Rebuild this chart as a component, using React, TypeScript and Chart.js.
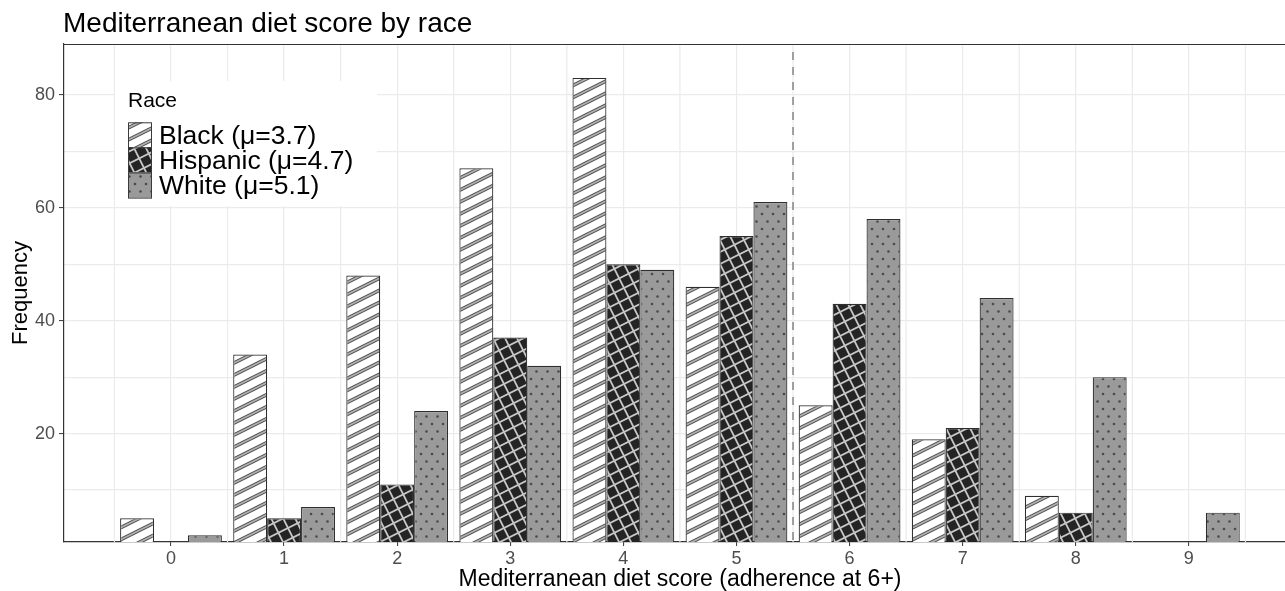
import React, { useEffect, useRef } from 'react';
import { Chart, registerables } from 'chart.js';

Chart.register(...registerables);

// ---- data ----
const scores = [0, 1, 2, 3, 4, 5, 6, 7, 8, 9];
const blackCounts = [5, 34, 48, 67, 83, 46, 25, 19, 9, 0];
const hispanicCounts = [0, 5, 11, 37, 50, 55, 43, 21, 6, 0];
const whiteCounts = [2, 7, 24, 32, 49, 61, 58, 44, 30, 6];
const seriesLabels = ['Black (μ=3.7)', 'Hispanic (μ=4.7)', 'White (μ=5.1)'];
const yTickValues = [10, 20, 30, 40, 50, 60, 70, 80];
const xHalfGrid = [-0.5, 0.5, 1.5, 2.5, 3.5, 4.5, 5.5, 6.5, 7.5, 8.5, 9.5];
const cutoffScore = 5.5;
const chartTitle = 'Mediterranean diet score by race';
const xTitle = 'Mediterranean diet score (adherence at 6+)';
const yTitle = 'Frequency';
const legendTitle = 'Race';

const FONT = "'Liberation Sans', Arial, Helvetica, sans-serif";

function makePattern(ctx: CanvasRenderingContext2D, w: number, h: number, draw: (g: CanvasRenderingContext2D) => void) {
  const c = document.createElement('canvas');
  c.width = w;
  c.height = h;
  const g = c.getContext('2d')!;
  draw(g);
  return ctx.createPattern(c, 'repeat')!;
}

function buildPatterns(ctx: CanvasRenderingContext2D) {
  const stripes = makePattern(ctx, 24, 12, (g) => {
    g.fillStyle = '#ffffff';
    g.fillRect(0, 0, 24, 12);
    for (let k = -1; k <= 2; k++) {
      g.beginPath();
      g.moveTo(-4, 12 * k + 2);
      g.lineTo(28, 12 * k - 14);
      g.strokeStyle = '#4a4a4a';
      g.lineWidth = 3.6;
      g.stroke();
      g.strokeStyle = '#b0b0b0';
      g.lineWidth = 1.8;
      g.stroke();
    }
  });
  const cross = makePattern(ctx, 24, 24, (g) => {
    g.fillStyle = '#242424';
    g.fillRect(0, 0, 24, 24);
    g.strokeStyle = '#c8c8c8';
    g.lineWidth = 1.8;
    for (let k = -1; k <= 4; k++) {
      g.beginPath();
      g.moveTo(-4, 12 * k + 2);
      g.lineTo(28, 12 * k - 14);
      g.stroke();
    }
    for (let k = -1; k <= 2; k++) {
      g.beginPath();
      g.moveTo(12 * k - 2, -4);
      g.lineTo(12 * k + 14, 28);
      g.stroke();
    }
  });
  const dots = makePattern(ctx, 22, 15, (g) => {
    g.fillStyle = '#9a9a9a';
    g.fillRect(0, 0, 22, 15);
    g.fillStyle = '#4a4a4a';
    const pts = [[3, 4], [14, 4], [8.5, 11.5], [19.5, 11.5]];
    for (const [x, y] of pts) {
      g.beginPath();
      g.arc(x, y, 1.3, 0, Math.PI * 2);
      g.fill();
    }
  });
  return [stripes, cross, dots];
}

export default function App() {
  const ref = useRef<HTMLCanvasElement | null>(null);

  useEffect(() => {
    document.body.style.margin = '0';
    const canvas = ref.current!;
    const ctx = canvas.getContext('2d')!;
    const patterns = buildPatterns(ctx);
    const toPoints = (arr: number[]) => scores.map((s, i) => ({ x: s, y: arr[i] === 0 ? null : arr[i] }));

    const decor = {
      id: 'decor',
      beforeDatasetsDraw(chart: any) {
        const { ctx: c, chartArea: a, scales } = chart;
        c.save();
        c.beginPath();
        c.rect(a.left, a.top, a.right - a.left, a.bottom - a.top);
        c.clip();
        c.strokeStyle = '#ebebeb';
        c.lineWidth = 1.2;
        for (const v of xHalfGrid) {
          const px = scales.x.getPixelForValue(v);
          c.beginPath();
          c.moveTo(px, a.top);
          c.lineTo(px, a.bottom);
          c.stroke();
        }
        c.restore();
      },
      afterDatasetsDraw(chart: any) {
        const { ctx: c, chartArea: a, scales } = chart;
        const px = scales.x.getPixelForValue(cutoffScore);
        c.save();
        c.strokeStyle = '#8c8c8c';
        c.lineWidth = 1.6;
        c.setLineDash([8, 7]);
        c.lineDashOffset = -8;
        c.beginPath();
        c.moveTo(px, a.top);
        c.lineTo(px, a.bottom);
        c.stroke();
        c.restore();
      },
      afterDraw(chart: any) {
        const { ctx: c, chartArea: a } = chart;
        c.save();
        // top border
        c.strokeStyle = '#333333';
        c.lineWidth = 1.2;
        c.beginPath();
        c.moveTo(a.left, a.top + 0.5);
        c.lineTo(a.right, a.top + 0.5);
        c.stroke();

        // title
        c.fillStyle = '#000000';
        c.textAlign = 'left';
        c.textBaseline = 'alphabetic';
        c.font = `28px ${FONT}`;
        c.fillText(chartTitle, 63, 32);

        // x title
        c.font = `23px ${FONT}`;
        c.textAlign = 'center';
        c.fillText(xTitle, 680, 586);

        // y title
        c.save();
        c.font = `22px ${FONT}`;
        c.translate(27, (a.top + a.bottom) / 2);
        c.rotate(-Math.PI / 2);
        c.textAlign = 'center';
        c.fillText(yTitle, 0, 0);
        c.restore();

        // legend
        const lx = 115, ly = 81, lw = 262, lh = 125;
        c.fillStyle = '#ffffff';
        c.fillRect(lx, ly, lw, lh);
        c.fillStyle = '#000000';
        c.textAlign = 'left';
        c.font = `21px ${FONT}`;
        c.fillText(legendTitle, 128, 107);
        const keyTop = 122.3, keyH = 25.1, keyX = 128, keyW = 23;
        c.font = `26.5px ${FONT}`;
        c.strokeStyle = '#3a3a3a';
        c.lineWidth = 1;
        for (let i = 0; i < seriesLabels.length; i++) {
          const y0 = keyTop + i * keyH;
          c.fillStyle = patterns[i];
          c.fillRect(keyX, y0, keyW, keyH);
          c.strokeRect(keyX + 0.5, y0 + 0.5, keyW, keyH);
          c.fillStyle = '#000000';
          c.fillText(seriesLabels[i], 159, y0 + 21.7);
        }
        c.restore();
      },
    };

    const chart = new Chart(canvas, {
      type: 'bar',
      data: {
        datasets: [
          { label: seriesLabels[0], data: toPoints(blackCounts), backgroundColor: patterns[0] },
          { label: seriesLabels[1], data: toPoints(hispanicCounts), backgroundColor: patterns[1] },
          { label: seriesLabels[2], data: toPoints(whiteCounts), backgroundColor: patterns[2] },
        ] as any,
      },
      options: {
        responsive: false,
        animation: false,
        devicePixelRatio: 1,
        layout: { padding: { top: 44, left: 0, right: 0, bottom: 0 } },
        datasets: {
          bar: {
            categoryPercentage: 0.9,
            barPercentage: 1,
            borderWidth: 1.2,
            borderColor: '#2e2e2e',
            borderSkipped: false,
          },
        } as any,
        plugins: {
          legend: { display: false },
          title: { display: false },
          tooltip: { enabled: false },
        },
        scales: {
          x: {
            type: 'linear',
            min: -0.946,
            max: 9.85,
            offset: false,
            afterBuildTicks: (s: any) => {
              s.ticks = scores.map((v) => ({ value: v }));
            },
            afterFit: (s: any) => {
              s.height = 49;
            },
            ticks: {
              autoSkip: false,
              maxRotation: 0,
              padding: 2,
              color: '#4d4d4d',
              font: { family: FONT, size: 18 },
              callback: (v: any) => String(v),
            },
            grid: {
              offset: false,
              color: '#ebebeb',
              lineWidth: 1.2,
              tickLength: 4,
              tickColor: '#333333',
              tickWidth: 1,
            },
            border: { display: true, color: '#333333', width: 1.2 },
          },
          y: {
            type: 'linear',
            min: 0.8,
            max: 89,
            afterBuildTicks: (s: any) => {
              s.ticks = yTickValues.map((v) => ({ value: v }));
            },
            afterFit: (s: any) => {
              s.width = 64;
            },
            ticks: {
              padding: 4,
              color: '#4d4d4d',
              font: { family: FONT, size: 18 },
              callback: (v: any) => (Number(v) % 20 === 0 ? String(v) : ''),
            },
            grid: {
              color: '#ebebeb',
              lineWidth: 1.2,
              tickLength: 5,
              tickWidth: 1,
              tickColor: (c: any) => (c.tick && c.tick.value % 20 === 0 ? '#333333' : 'rgba(0,0,0,0)'),
            },
            border: { display: true, color: '#333333', width: 1.2 },
          },
        } as any,
      },
      plugins: [decor],
    } as any);

    return () => chart.destroy();
  }, []);

  return (
    <div style={{ width: 1285, height: 591, position: 'relative', overflow: 'hidden', background: '#ffffff' }}>
      <canvas ref={ref} width={1285} height={591} style={{ display: 'block', width: 1285, height: 591 }} />
    </div>
  );
}
